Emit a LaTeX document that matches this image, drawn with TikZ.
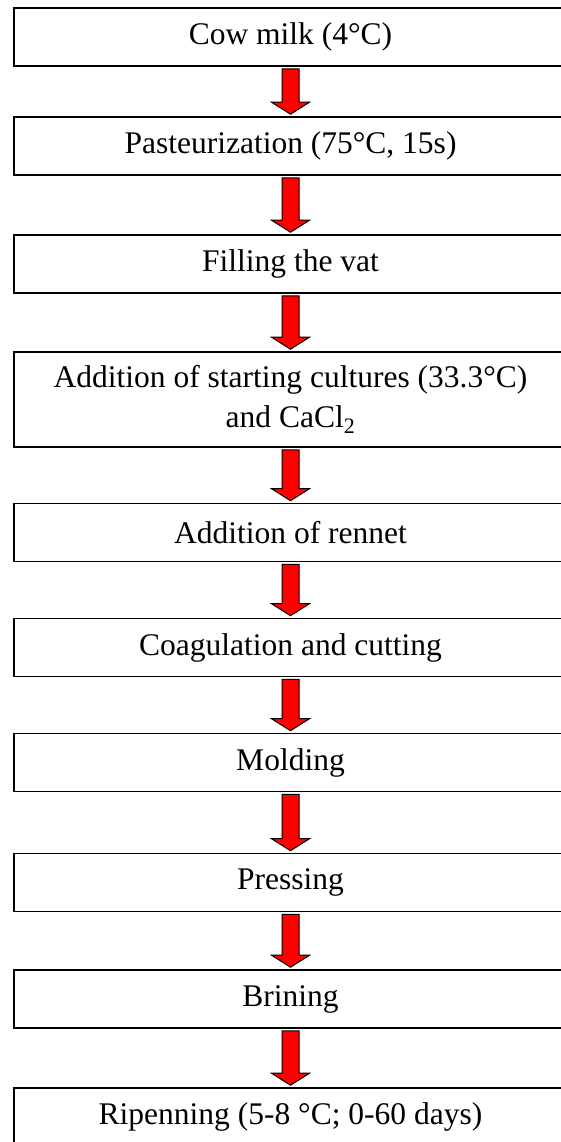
\documentclass[tikz,border=0pt]{standalone}
\usepackage{fontspec}
\setmainfont{Liberation Serif}
\usetikzlibrary{calc}
\tikzset{stage/.style={draw, line width=1.6pt, minimum width=553pt, minimum height=58pt, inner sep=0pt, align=center, font=\fontsize{31.5}{40}\selectfont}}
% red block arrow between two stages
\newcommand{\flowarrow}[2]{%
  \filldraw[fill=red, draw=black, line width=1pt]
    ($(#1.south)+(-8.5,2)$) -- ($(#1.south)+(8.5,2)$) -- ($(#2.north)+(8.5,-14)$)
    -- ($(#2.north)+(19,-14)$) -- ($(#2.north)+(0,-2)$) -- ($(#2.north)+(-19,-14)$)
    -- ($(#2.north)+(-8.5,-14)$) -- cycle;}
\begin{document}
\begin{tikzpicture}[x=1pt, y=-1pt, line join=miter]
	\def\xc{290.5}
	\useasboundingbox (0,0) rectangle (561,1142);
	\clip (0,0) rectangle (561,1142);
	\node[stage] (milk) at (\xc,37) {Cow milk (4°C)};
	\node[stage] (past) at (\xc,146) {Pasteurization (75°C, 15s)};
	\node[stage] (fill) at (\xc,264) {Filling the vat};
	\node[stage, minimum height=95pt] (cult) at (\xc,399.5) {Addition of starting cultures (33.3°C)\\ and CaCl\textsubscript{2}};
	\node[stage] (renn) at (\xc,532.5) {Addition of rennet};
	\node[stage] (coag) at (\xc,647.5) {Coagulation and cutting};
	\node[stage] (mold) at (\xc,762.5) {Molding};
	\node[stage] (pres) at (\xc,882.5) {Pressing};
	\node[stage] (brin) at (\xc,999) {Brining};
	\node[stage] (ripe) at (\xc,1117) {Ripenning (5-8 °C; 0-60 days)};
	\foreach \a/\b in {milk/past, past/fill, fill/cult, cult/renn, renn/coag, coag/mold, mold/pres, pres/brin, brin/ripe}
		\flowarrow{\a}{\b};
\end{tikzpicture}
\end{document}
